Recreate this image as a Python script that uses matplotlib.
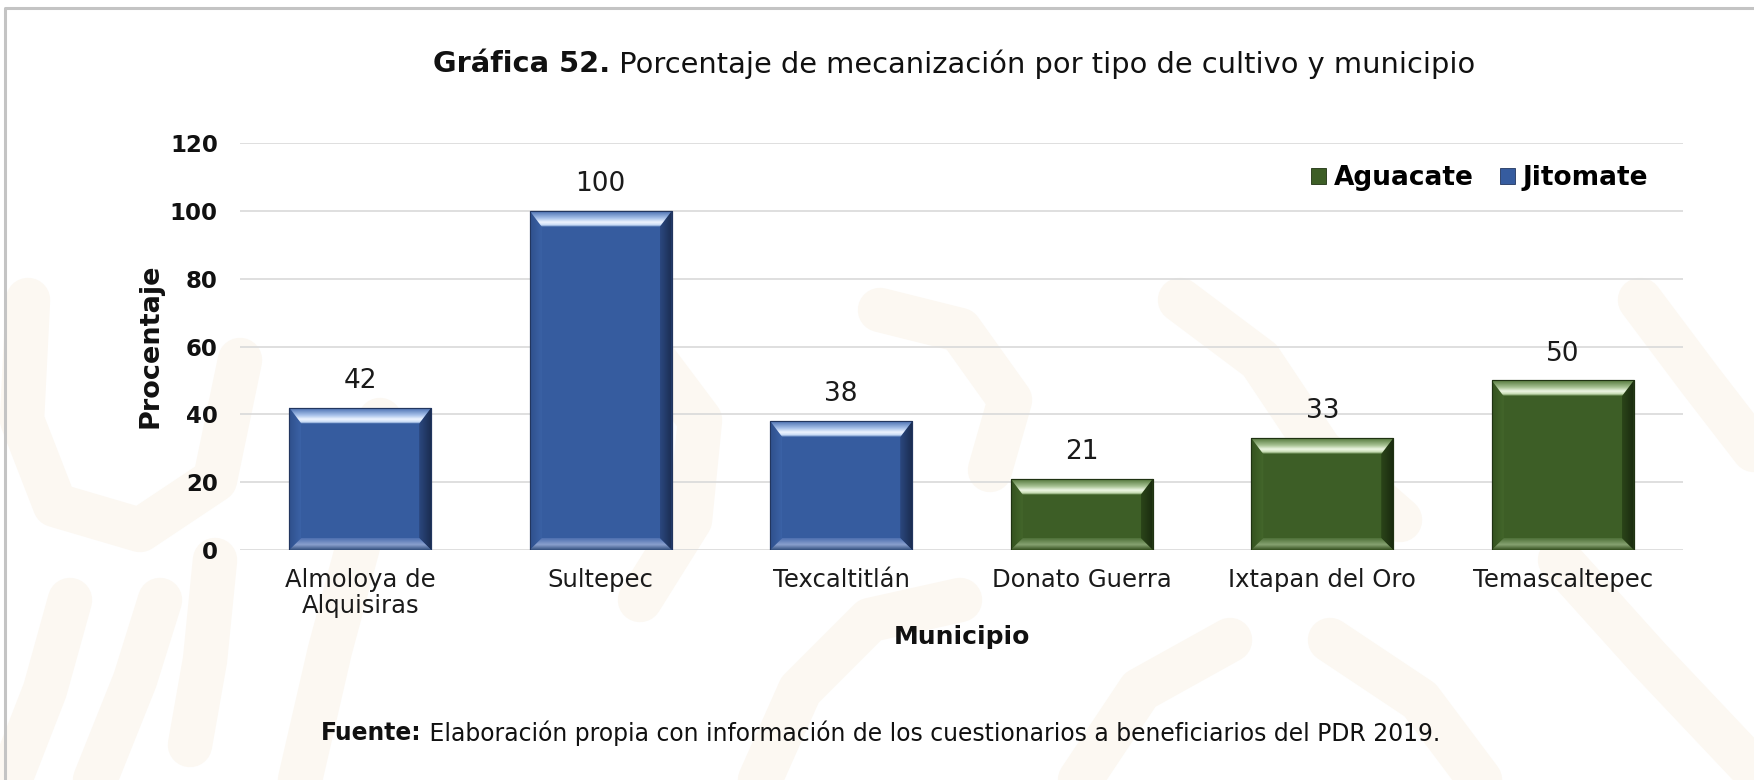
import numpy as np
import matplotlib
matplotlib.use("Agg")
import matplotlib.pyplot as plt
from matplotlib.patches import Polygon, Patch
from matplotlib.lines import Line2D
from matplotlib.colors import to_rgb

# ---- data -------------------------------------------------------------
municipios = ["Almoloya de\nAlquisiras", "Sultepec", "Texcaltitlán",
              "Donato Guerra", "Ixtapan del Oro", "Temascaltepec"]
cultivo = ["Jitomate", "Jitomate", "Jitomate",
           "Aguacate", "Aguacate", "Aguacate"]
porcentaje = [42, 100, 38, 21, 33, 50]
y_ticks = [0, 20, 40, 60, 80, 100, 120]
legend_order = ["Aguacate", "Jitomate"]

titulo_num = "Gráfica 52."
titulo_txt = " Porcentaje de mecanización por tipo de cultivo y municipio"
fuente_lbl = "Fuente:"
fuente_txt = " Elaboración propia con información de los cuestionarios a beneficiarios del PDR 2019."

# ---- styling ----------------------------------------------------------
FONT = "DejaVu Sans"
PALETTE = {
    "Jitomate": dict(face="#365C9F", edge="#22365f",
                     top=[(0.0, "#3a62a6"), (0.12, "#c9dbf6"), (0.3, "#eef5ff"),
                          (0.55, "#a8c2ea"), (1.0, "#4a6fb0")],
                     right=[(0.0, "#2b487f"), (1.0, "#1b2d52")],
                     left=[(0.0, "#2f508c"), (1.0, "#3b62a6")],
                     bottom=[(0.0, "#33507f"), (0.45, "#8aa0cd"), (1.0, "#4d6fb0")]),
    "Aguacate": dict(face="#3D5E26", edge="#1f3212",
                     top=[(0.0, "#42662a"), (0.12, "#c6dcb2"), (0.3, "#eef7e4"),
                          (0.55, "#a6c192"), (1.0, "#52763a")],
                     right=[(0.0, "#2b4519"), (1.0, "#1a2b0f")],
                     left=[(0.0, "#34521f"), (1.0, "#44682c")],
                     bottom=[(0.0, "#354f20"), (0.45, "#86a271"), (1.0, "#4e7038")]),
}

W, H = 1754, 780
fig = plt.figure(figsize=(W / 100, H / 100), dpi=100)
fig.patch.set_facecolor("white")
renderer = fig.canvas.get_renderer()


def fx(px):
    return px / W


def fy(py):
    return 1 - py / H


def text_width(s, size, weight):
    t = fig.text(0, 0, s, fontsize=size, fontweight=weight, family=FONT)
    w = t.get_window_extent(renderer).width
    t.remove()
    return w


def fit_size(pieces, target_px, base=20):
    total = sum(text_width(s, base, w) for s, w in pieces)
    return base * target_px / total


def draw_pieces(pieces, x_px, y_px, size):
    x = x_px
    for s, w in pieces:
        t = fig.text(fx(x), fy(y_px), s, fontsize=size, fontweight=w,
                     family=FONT, ha="left", va="center", color="#111111")
        x += t.get_window_extent(renderer).width


# ---- faint background ornament ------------------------------------------
ornament = [
    [(28, 300), (22, 420), (55, 505), (140, 530), (215, 480), (240, 360)],
    [(10, 780), (45, 690), (70, 600)],
    [(95, 780), (135, 680), (160, 600)],
    [(190, 745), (205, 660), (215, 560)],
    [(300, 780), (330, 650), (365, 520), (380, 420)],
    [(560, 300), (640, 340), (700, 420), (690, 520), (640, 600)],
    [(760, 780), (800, 690), (870, 620), (960, 600)],
    [(880, 310), (960, 330), (1010, 400), (990, 470)],
    [(1080, 780), (1140, 690), (1230, 640)],
    [(1180, 300), (1260, 360), (1320, 450), (1400, 520)],
    [(1330, 640), (1420, 700), (1480, 780)],
    [(1560, 560), (1650, 660), (1754, 770)],
    [(1640, 300), (1700, 380), (1754, 450)],
]
for pts in ornament:
    xs = [fx(p[0]) for p in pts]
    ys = [fy(p[1]) for p in pts]
    fig.add_artist(Line2D(xs, ys, transform=fig.transFigure, color="#fcf8f2",
                          lw=32, solid_capstyle="round", solid_joinstyle="round",
                          zorder=0))

# border (top and left edges of the frame)
fig.add_artist(Line2D([fx(4.5), fx(4.5), fx(W)], [fy(H), fy(8), fy(8)],
                      transform=fig.transFigure, color="#c4c4c4", lw=2.2, zorder=1))

# ---- axes -------------------------------------------------------------
ax = fig.add_axes([fx(240), fy(550), (1683 - 240) / W, (550 - 143) / H])
ax.set_facecolor("none")
ax.set_zorder(2)
x = np.arange(len(municipios))
ax.set_xlim(-0.5, len(municipios) - 0.5)
ax.set_ylim(0, 120)
ax.set_yticks(y_ticks)
ax.yaxis.grid(True, color="#d9d9d9", lw=1.2, zorder=0)
ax.set_axisbelow(True)
for sp in ax.spines.values():
    sp.set_visible(False)
ax.tick_params(axis="both", length=0)
ax.tick_params(axis="y", pad=16, labelsize=16.5)
ax.tick_params(axis="x", pad=13, labelsize=17.5)
ax.set_xticks(x)
ax.set_xticklabels(municipios, family=FONT, fontsize=17.5, color="#1a1a1a",
                   linespacing=1.1)
ax.set_yticklabels([str(v) for v in y_ticks], family=FONT, fontsize=16.5,
                   fontweight="bold", color="#111111")

faces = [PALETTE[c]["face"] for c in cultivo]
edges = [PALETTE[c]["edge"] for c in cultivo]
bars = ax.bar(x, porcentaje, width=0.59, color=faces, edgecolor=edges,
              linewidth=0.8, zorder=3)


def ramp(stops, n=64):
    t = np.linspace(0, 1, n)
    ts = [s[0] for s in stops]
    cols = np.array([to_rgb(s[1]) for s in stops])
    return np.stack([np.interp(t, ts, cols[:, k]) for k in range(3)], axis=-1)


inv = ax.transData.inverted()


def shade(poly_px, stops, vertical):
    pts = inv.transform(poly_px)
    patch = Polygon(pts, closed=True, facecolor="none", edgecolor="none",
                    transform=ax.transData)
    ax.add_patch(patch)
    c = ramp(stops)
    img = c[:, None, :] if vertical else c[None, :, :]
    xa, xb = pts[:, 0].min(), pts[:, 0].max()
    ya, yb = pts[:, 1].min(), pts[:, 1].max()
    im = ax.imshow(img, extent=(xa, xb, ya, yb), origin="lower",
                   aspect="auto", interpolation="bilinear", zorder=4)
    im.set_clip_path(patch)


BL, BT, BB = 12, 16, 12
for rect, crop in zip(bars, cultivo):
    p = PALETTE[crop]
    x0, y0 = ax.transData.transform((rect.get_x(), 0))
    x1, y1 = ax.transData.transform((rect.get_x() + rect.get_width(),
                                     rect.get_height()))
    top = [(x0, y1), (x1, y1), (x1 - BL, y1 - BT), (x0 + BL, y1 - BT)]
    bot = [(x0, y0), (x1, y0), (x1 - BL, y0 + BB), (x0 + BL, y0 + BB)]
    left = [(x0, y0), (x0 + BL, y0 + BB), (x0 + BL, y1 - BT), (x0, y1)]
    right = [(x1, y0), (x1, y1), (x1 - BL, y1 - BT), (x1 - BL, y0 + BB)]
    shade(left, p["left"], vertical=False)
    shade(right, p["right"], vertical=False)
    shade(bot, p["bottom"], vertical=True)
    shade(top, p["top"], vertical=True)
    ax.add_patch(Polygon(inv.transform([(x0, y0), (x1, y0), (x1, y1), (x0, y1)]),
                         closed=True, facecolor="none", edgecolor=p["edge"],
                         lw=0.8, zorder=5))
    ax.annotate(f"{rect.get_height():g}", (rect.get_x() + rect.get_width() / 2,
                                          rect.get_height()),
                xytext=(0, 10), textcoords="offset points", ha="center",
                va="bottom", fontsize=19, family=FONT, color="#1a1a1a")

ax.set_xlim(-0.5, len(municipios) - 0.5)
ax.set_ylim(0, 120)

# ---- axis titles ------------------------------------------------------
ax.set_xlabel("Municipio", fontsize=18, fontweight="bold", family=FONT,
              labelpad=5, color="#111111")
ylab_size = fit_size([("Procentaje", "bold")], 165)
fig.text(fx(150), fy(346), "Procentaje", rotation=90, ha="center",
         va="center", fontsize=ylab_size, fontweight="bold", family=FONT,
         color="#111111")

# ---- legend -----------------------------------------------------------
handles = [Patch(facecolor=PALETTE[c]["face"], edgecolor=PALETTE[c]["edge"],
                 lw=0.6) for c in legend_order]
leg = ax.legend(handles, legend_order, ncol=2, frameon=False,
                loc="center right", bbox_to_anchor=(fx(1648), fy(178)),
                bbox_transform=fig.transFigure, borderaxespad=0, borderpad=0,
                handlelength=0.55, handleheight=0.55, handletextpad=0.3,
                columnspacing=1.0,
                prop=dict(family=FONT, weight="bold", size=19))

# ---- title and source note --------------------------------------------
title_pieces = [(titulo_num, "bold"), (titulo_txt, "normal")]
draw_pieces(title_pieces, 433, 64, fit_size(title_pieces, 1040))
src_pieces = [(fuente_lbl, "bold"), (fuente_txt, "normal")]
draw_pieces(src_pieces, 321, 733, fit_size(src_pieces, 1122))

fig.savefig("out.png", dpi=100, facecolor="white")
